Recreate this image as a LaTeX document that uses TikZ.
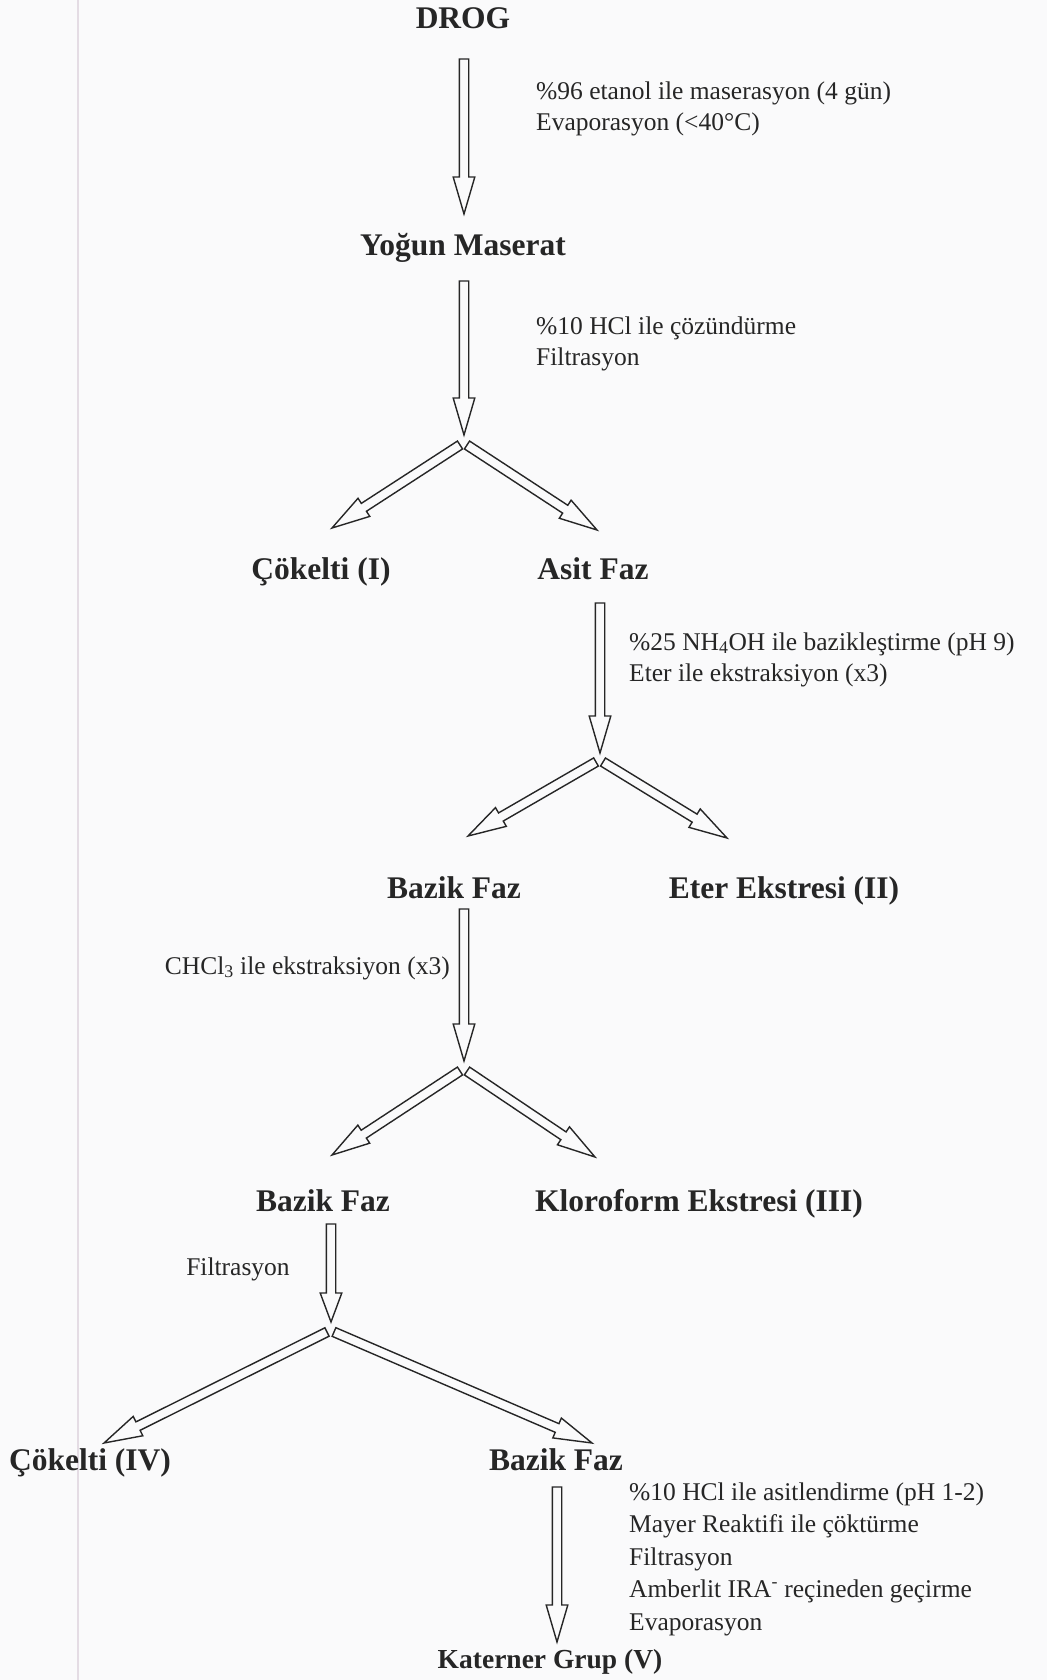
\documentclass[tikz,border=0pt]{standalone}
\usepackage{fontspec}
\setmainfont{Liberation Serif}
\usetikzlibrary{calc}

\definecolor{ink}{HTML}{262626}
\definecolor{paper}{HTML}{FAFAFB}
\definecolor{margin}{HTML}{E4DCE4}

% Outlined block arrow from #2 to #3; optional #1 is the head length
\newcommand\blockarrow[3][37pt]{%
  \path ($(#3)!#1!(#2)$) coordinate (hb);
  \draw[blockline]
    ($(#2)!4.7pt!90:(#3)$) -- ($(hb)!4.7pt!90:(#3)$) -- ($(hb)!10.8pt!90:(#3)$)
    -- (#3)
    -- ($(hb)!10.8pt!-90:(#3)$) -- ($(hb)!4.7pt!-90:(#3)$) -- ($(#2)!4.7pt!-90:(#3)$)
    -- cycle;
}

\tikzset{
  blockline/.style={draw=ink, line width=1.4pt, line join=miter, fill=paper},
  phase/.style={font=\fontsize{31.5}{36}\selectfont\bfseries, text=ink, inner sep=0pt, anchor=base},
  note/.style={font=\fontsize{25.5}{31}\selectfont, text=ink, inner sep=0pt, anchor=base west},
}

\begin{document}
\begin{tikzpicture}[x=1pt,y=-1pt]
  \fill[paper] (0,0) rectangle (1047,1680);
  \useasboundingbox (0,0) rectangle (1047,1680);
  \draw[margin, line width=1.6pt] (78,0) -- (78,1680);

  % phases
  \node[phase] (drog)  at (463,29)   {DROG};
  \node[phase] (ym)    at (463,256)  {Yoğun Maserat};
  \node[phase] (c1)    at (321,579)  {Çökelti (I)};
  \node[phase] (asit)  at (593,579)  {Asit Faz};
  \node[phase] (bz1)   at (454,898)  {Bazik Faz};
  \node[phase] (eter)  at (784,898)  {Eter Ekstresi (II)};
  \node[phase] (bz2)   at (323,1211) {Bazik Faz};
  \node[phase] (klo)   at (699,1211) {Kloroform Ekstresi (III)};
  \node[phase] (c4)    at (90,1470)  {Çökelti (IV)};
  \node[phase] (bz3)   at (556,1470) {Bazik Faz};
  \node[phase, font=\fontsize{27.5}{32}\selectfont\bfseries] (kat) at (550,1668) {Katerner Grup (V)};

  % process notes
  \node[note] (n1a) at (536,100)  {\%96 etanol ile maserasyon (4 gün)};
  \node[note] (n1b) at (536,131)  {Evaporasyon (<40°C)};
  \node[note] (n2a) at (536,334)  {\%10 HCl ile çözündürme};
  \node[note] (n2b) at (536,365)  {Filtrasyon};
  \node[note] (n3a) at (629,650)  {\%25 NH\textsubscript{4}OH ile bazikleştirme (pH 9)};
  \node[note] (n3b) at (629,681)  {Eter ile ekstraksiyon (x3)};
  \node[note, anchor=base east] (n4) at (450,974) {CHCl\textsubscript{3} ile ekstraksiyon (x3)};
  \node[note, anchor=base] (n5) at (238,1275) {Filtrasyon};
  \node[note] (n6a) at (629,1500) {\%10 HCl ile asitlendirme (pH 1-2)};
  \node[note] (n6b) at (629,1532) {Mayer Reaktifi ile çöktürme};
  \node[note] (n6c) at (629,1565) {Filtrasyon};
  \node[note] (n6d) at (629,1597) {Amberlit IRA\textsuperscript{-} reçineden geçirme};
  \node[note] (n6e) at (629,1630) {Evaporasyon};

  % arrow end points
  \coordinate (a1s) at (464,59);   \coordinate (a1e) at (464,214);
  \coordinate (a2s) at (464,281);  \coordinate (a2e) at (464,435);
  \coordinate (f1l) at (460,445);  \coordinate (f1r) at (467,445);
  \coordinate (t1l) at (332,528);  \coordinate (t1r) at (597,530);
  \coordinate (a3s) at (600,603);  \coordinate (a3e) at (600,753);
  \coordinate (f2l) at (596,762);  \coordinate (f2r) at (603,762);
  \coordinate (t2l) at (468,836);  \coordinate (t2r) at (727,838);
  \coordinate (a4s) at (464,909);  \coordinate (a4e) at (464,1061);
  \coordinate (f3l) at (460,1071); \coordinate (f3r) at (467,1071);
  \coordinate (t3l) at (332,1155); \coordinate (t3r) at (595,1157);
  \coordinate (a5s) at (331,1224); \coordinate (a5e) at (331,1322);
  \coordinate (f4l) at (327,1332); \coordinate (f4r) at (334,1332);
  \coordinate (t4l) at (104,1443); \coordinate (t4r) at (592,1443);
  \coordinate (a6s) at (557,1487); \coordinate (a6e) at (557,1642);

  % arrows
  \blockarrow{a1s}{a1e}
  \blockarrow{a2s}{a2e}
  \blockarrow[38pt]{f1l}{t1l}
  \blockarrow[38pt]{f1r}{t1r}
  \blockarrow{a3s}{a3e}
  \blockarrow[38pt]{f2l}{t2l}
  \blockarrow[38pt]{f2r}{t2r}
  \blockarrow{a4s}{a4e}
  \blockarrow[38pt]{f3l}{t3l}
  \blockarrow[38pt]{f3r}{t3r}
  \blockarrow[29pt]{a5s}{a5e}
  \blockarrow[38pt]{f4l}{t4l}
  \blockarrow[38pt]{f4r}{t4r}
  \blockarrow{a6s}{a6e}
\end{tikzpicture}
\end{document}
